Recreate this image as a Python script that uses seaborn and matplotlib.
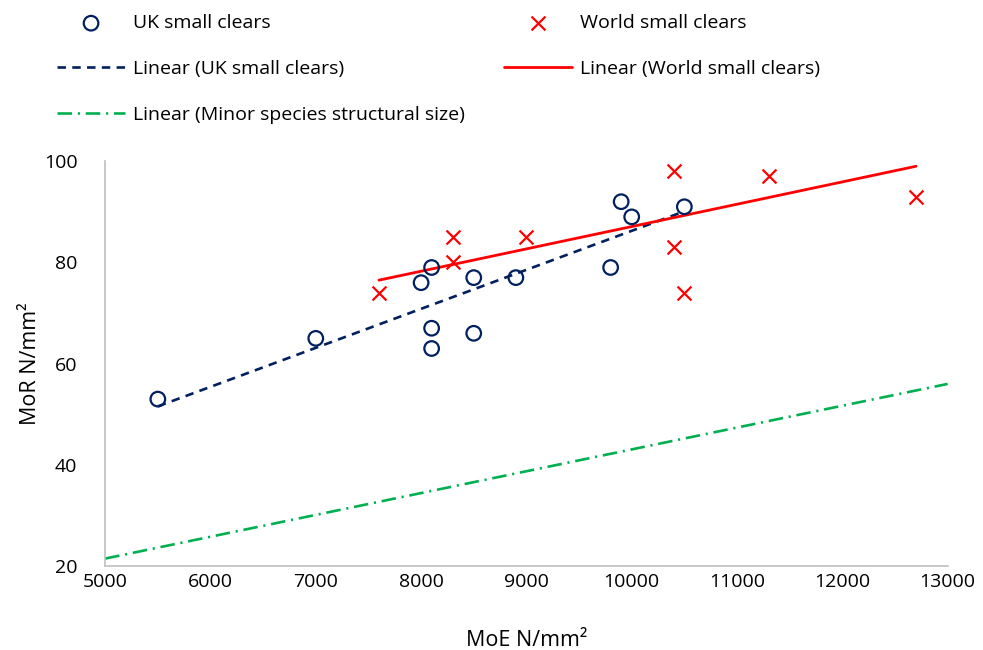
import numpy as np
import pandas as pd
import matplotlib.pyplot as plt
import seaborn as sns

# UK small clears (MoE, MoR)
uk_moe = [5500, 7000, 8000, 8100, 8100, 8100, 8500, 8500, 8900, 9800, 9900, 10000, 10500]
uk_mor = [53, 65, 76, 79, 67, 63, 77, 66, 77, 79, 92, 89, 91]

# World small clears
world_moe = [7600, 8300, 8300, 9000, 10400, 10400, 10500, 11300, 12700]
world_mor = [74, 85, 80, 85, 98, 83, 74, 97, 93]

# trend lines (end points)
world_trend_moe = [7600, 12700]
world_trend_mor = [76.5, 99.0]
minor_trend_moe = [5000, 13000]
minor_trend_mor = [21.5, 56.0]

navy = '#002060'
red = '#FF0000'
green = '#00B050'

sns.set_theme(style="white")
plt.rcParams['font.family'] = ['Open Sans', 'DejaVu Sans']
plt.rcParams['text.color'] = 'black'
plt.rcParams['axes.labelcolor'] = 'black'

fig = plt.figure(figsize=(9.83, 6.5), dpi=100)
ax = fig.add_axes([0.107, 0.129, 0.857, 0.623])

# Linear fit for UK small clears
slope, icpt = np.polyfit(uk_moe, uk_mor, 1)
uk_fit_x = [min(uk_moe), max(uk_moe)]
uk_fit_y = [slope * x + icpt for x in uk_fit_x]

sns.lineplot(x=uk_fit_x, y=uk_fit_y, ax=ax, color=navy, linewidth=1.9,
             dashes=(3.2, 2.4), label='Linear (UK small clears)')
sns.lineplot(x=world_trend_moe, y=world_trend_mor, ax=ax, color=red, linewidth=2.0,
             label='Linear (World small clears)')
sns.lineplot(x=minor_trend_moe, y=minor_trend_mor, ax=ax, color=green, linewidth=1.9,
             dashes=(5.5, 2.2, 0.8, 2.2), label='Linear (Minor species structural size)')

sns.scatterplot(x=uk_moe, y=uk_mor, ax=ax, marker='o', s=110, facecolors='none',
                edgecolors=navy, linewidth=1.6, label='UK small clears', zorder=5)
sns.scatterplot(x=world_moe, y=world_mor, ax=ax, marker='x', s=100, color=red,
                linewidth=1.6, label='World small clears', zorder=5)

ax.set_xlim(5000, 13000)
ax.set_ylim(20, 100)
ax.set_xticks(range(5000, 13001, 1000))
ax.set_yticks(range(20, 101, 20))
ax.tick_params(axis='both', length=0, labelsize=14, colors='#000000')
ax.tick_params(axis='y', pad=20)
ax.tick_params(axis='x', pad=5)
for side in ['top', 'right']:
    ax.spines[side].set_visible(False)
for side in ['left', 'bottom']:
    ax.spines[side].set_color('#BFBFBF')
    ax.spines[side].set_linewidth(1.2)

ax.set_xlabel('MoE N/mm²', fontsize=15.5, labelpad=28)
ax.set_ylabel('MoR N/mm²', fontsize=15.5, labelpad=2)

h, l = ax.get_legend_handles_labels()
ax.get_legend().remove()
hd = dict(zip(l, h))
left = ['UK small clears', 'Linear (UK small clears)', 'Linear (Minor species structural size)']
right = ['World small clears', 'Linear (World small clears)']
leg_kw = dict(loc='upper left', frameon=False, fontsize=14, handlelength=3.5,
              handletextpad=0.4, labelspacing=1.42, borderpad=0, borderaxespad=0)
leg1 = fig.legend([hd[k] for k in left], left, bbox_to_anchor=(0.058, 0.978), **leg_kw)
leg2 = fig.legend([hd[k] for k in right], right, bbox_to_anchor=(0.5127, 0.978), **leg_kw)

plt.savefig('out.png', dpi=100)
